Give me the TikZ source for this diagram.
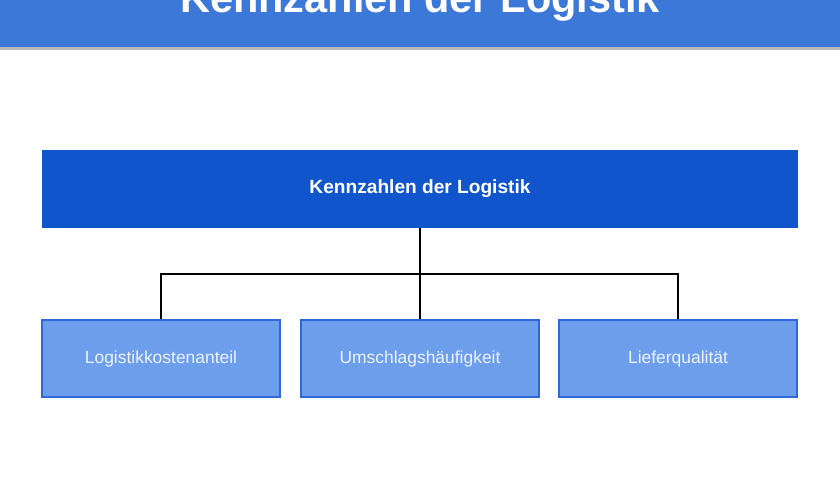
\documentclass[tikz,border=0pt]{standalone}
\usepackage{fontspec}
\setmainfont{Liberation Sans}
\definecolor{bannerblue}{HTML}{3C78D8}
\definecolor{rootblue}{HTML}{1155CC}
\definecolor{leafblue}{HTML}{6D9EEB}
\definecolor{leafedge}{HTML}{2F68D8}
\definecolor{leaftext}{HTML}{EEF3FD}
\begin{document}
\begin{tikzpicture}[x=0.025cm, y=-0.025cm]
\tikzstyle{every node}=[rectangle,inner sep=0pt]
\tikzstyle{leaf}=[draw=leafedge,line width=0.9pt,fill=leafblue,text=leaftext,minimum width=5.95cm,minimum height=1.925cm,font=\fontsize{12.4}{14}\selectfont]
\useasboundingbox (0,0) rectangle (840,480);
% banner
\fill[gray!55] (0,46) rectangle (840,50);
\fill[bannerblue] (0,0) rectangle (840,47);
\node[text=white,font=\bfseries\fontsize{29.5}{32}\selectfont,anchor=base] (title) at (420,12) {Kennzahlen der Logistik};
% tree
\node[fill=rootblue,text=white,minimum width=18.875cm,minimum height=1.95cm,font=\bfseries\fontsize{13.6}{16}\selectfont] (root) at (420,189) {Kennzahlen der Logistik};
\node[leaf] (k1) at (161,358.5) {Logistikkostenanteil};
\node[leaf] (k2) at (420,358.5) {Umschlagshäufigkeit};
\node[leaf] (k3) at (678,358.5) {Lieferqualität};
\coordinate (bus) at (420,274);
\draw[line width=0.9pt] (root.south) -- (k2.north);
\draw[line width=0.9pt] (k1.north) |- (bus) -| (k3.north);
\end{tikzpicture}
\end{document}
